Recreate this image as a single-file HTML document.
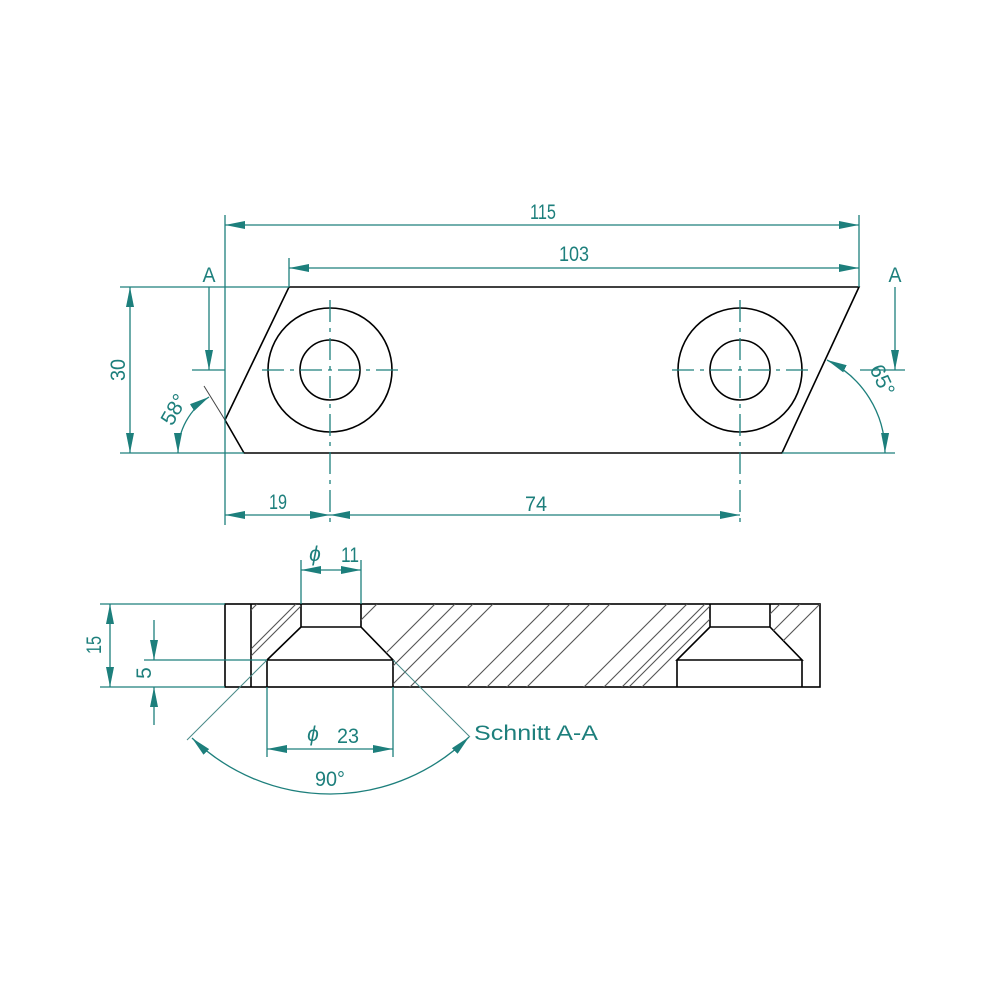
<!DOCTYPE html>
<html><head><meta charset="utf-8"><style>
html,body{margin:0;padding:0;background:#fff}
svg{display:block}
text{font-family:"Liberation Sans",sans-serif;fill:#1d7f7c;font-size:21px}
</style></head><body>
<svg width="1000" height="1000" viewBox="0 0 1000 1000" xmlns="http://www.w3.org/2000/svg">
<defs>
<marker id="a" viewBox="0 0 20 8" refX="20" refY="4" markerWidth="20" markerHeight="8" markerUnits="userSpaceOnUse" orient="auto-start-reverse"><path d="M0,0 L20,4 L0,8 z" fill="#1d7f7c"/></marker>
<clipPath id="hc">
<path d="M251,604 L301,604 L301,627 L267,660 L267,687 L251,687 Z M361,604 L710,604 L710,627 L677,660 L677,687 L393,687 L393,660 L361,627 Z M770,604 L820,604 L820,687 L802,687 L802,660 L770,627 Z"/>
</clipPath>
</defs>
<g fill="none" stroke="#000" stroke-width="1.6">
<path d="M289,287 L859,287 L782,453 L244,453 L225,420 Z"/>
<circle cx="330" cy="370" r="62"/><circle cx="330" cy="370" r="30"/>
<circle cx="740" cy="370" r="62"/><circle cx="740" cy="370" r="30"/>
<rect x="225" y="604" width="595" height="83"/>
<line x1="251" y1="604" x2="251" y2="687"/>
<path d="M301,604 L301,627 L361,627 L361,604 M301,627 L267,660 L393,660 L361,627 M267,660 L267,687 M393,660 L393,687"/>
<path d="M710,604 L710,627 L770,627 L770,604 M710,627 L677,660 L802,660 L770,627 M677,660 L677,687 M802,660 L802,687"/>
</g>
<g clip-path="url(#hc)" stroke="#555" stroke-width="1.1">
<path d="M257,604 l-90,90 M296,604 l-90,90 M303,604 l-90,90 M377,604 l-90,90 M435,604 l-90,90 M455,604 l-90,90 M473,604 l-90,90 M493,604 l-90,90 M550,604 l-90,90 M570,604 l-90,90 M590,604 l-90,90 M610,604 l-90,90 M667,604 l-90,90 M687,604 l-90,90 M705,604 l-90,90 M712,604 l-90,90 M725,604 l-90,90 M780,604 l-90,90 M800,604 l-90,90 M820,604 l-90,90"/>
</g>
<g stroke="#1d7f7c" stroke-width="1.3" fill="none">
<path d="M262,370 H400 M330,300 V525 M672,370 H810 M740,300 V525" stroke-dasharray="22,6,4,6"/>
<path d="M225,215 V525 M289,258 V287 M859,215 V287 M120,287 H289 M120,453 H244 M782,453 H895 M192,370 H225 M860,370 H905"/>
<line x1="225" y1="225" x2="859" y2="225" marker-start="url(#a)" marker-end="url(#a)"/>
<line x1="289" y1="268" x2="859" y2="268" marker-start="url(#a)" marker-end="url(#a)"/>
<line x1="130" y1="287" x2="130" y2="453" marker-start="url(#a)" marker-end="url(#a)"/>
<line x1="209" y1="287" x2="209" y2="370" marker-end="url(#a)"/>
<line x1="895" y1="287" x2="895" y2="370" marker-end="url(#a)"/>
<line x1="225" y1="515" x2="330" y2="515" marker-start="url(#a)" marker-end="url(#a)"/>
<line x1="330" y1="515" x2="740" y2="515" marker-start="url(#a)" marker-end="url(#a)"/>
<line x1="225" y1="420" x2="204" y2="386" stroke="#444" stroke-width="1"/>
<path d="M178,453 A66,66 0 0 1 209,397" marker-start="url(#a)" marker-end="url(#a)"/>
<path d="M827,360 A103,103 0 0 1 885,453" marker-start="url(#a)" marker-end="url(#a)"/>
<path d="M100,604 H225 M100,687 H225 M144,660 H267 M301,560 V604 M361,560 V604 M267,687 V757 M393,687 V757"/>
<line x1="110" y1="604" x2="110" y2="687" marker-start="url(#a)" marker-end="url(#a)"/>
<line x1="154" y1="620" x2="154" y2="660" marker-end="url(#a)"/>
<line x1="154" y1="725" x2="154" y2="687" marker-end="url(#a)"/>
<line x1="301" y1="570" x2="361" y2="570" marker-start="url(#a)" marker-end="url(#a)"/>
<line x1="267" y1="749" x2="393" y2="749" marker-start="url(#a)" marker-end="url(#a)"/>
<path d="M267,660 L187,740 M393,660 L470,737" stroke="#4a8a88" stroke-width="1"/>
<path d="M192,738 A198,198 0 0 0 469,737" marker-start="url(#a)" marker-end="url(#a)"/>
</g>
<g>
<text x="543" y="219" text-anchor="middle" textLength="26" lengthAdjust="spacingAndGlyphs">115</text>
<text x="574" y="261" text-anchor="middle" textLength="30" lengthAdjust="spacingAndGlyphs">103</text>
<text x="209" y="282" text-anchor="middle" textLength="13" lengthAdjust="spacingAndGlyphs">A</text>
<text x="895" y="282" text-anchor="middle" textLength="13" lengthAdjust="spacingAndGlyphs">A</text>
<text transform="translate(125,370) rotate(-90)" text-anchor="middle" textLength="22" lengthAdjust="spacingAndGlyphs">30</text>
<text transform="translate(180,413) rotate(-60)" text-anchor="middle">58°</text>
<text transform="translate(876,383) rotate(65)" text-anchor="middle">65°</text>
<text x="278" y="509" text-anchor="middle" textLength="18" lengthAdjust="spacingAndGlyphs">19</text>
<text x="536" y="511" text-anchor="middle" textLength="22" lengthAdjust="spacingAndGlyphs">74</text>
<text x="315" y="561" text-anchor="middle" font-style="italic" font-size="24">ϕ</text>
<text x="350" y="562" text-anchor="middle" textLength="18" lengthAdjust="spacingAndGlyphs">11</text>
<text transform="translate(101,645) rotate(-90)" text-anchor="middle" textLength="18" lengthAdjust="spacingAndGlyphs">15</text>
<text transform="translate(151,673) rotate(-90)" text-anchor="middle">5</text>
<text x="313" y="741" text-anchor="middle" font-style="italic" font-size="24">ϕ</text>
<text x="348" y="743" text-anchor="middle" textLength="22" lengthAdjust="spacingAndGlyphs">23</text>
<text x="330" y="786" text-anchor="middle" textLength="30" lengthAdjust="spacingAndGlyphs">90°</text>
<text x="474" y="740" textLength="124" lengthAdjust="spacingAndGlyphs" font-size="22">Schnitt  A-A</text>
</g>
</svg>
</body></html>
